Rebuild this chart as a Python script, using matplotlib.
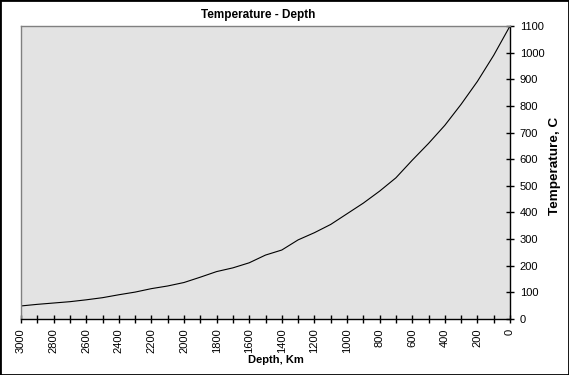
import matplotlib
matplotlib.use("Agg")
import matplotlib.pyplot as plt
from matplotlib.patches import Rectangle
from matplotlib.ticker import MultipleLocator

plt.rcParams['font.family'] = ['Liberation Sans', 'DejaVu Sans']

# depth in km, temperature in C
depth = [0, 100, 200, 300, 400, 500, 600, 700, 800, 900, 1000,
         1100, 1200, 1300, 1400, 1500, 1600, 1700, 1800, 1900, 2000,
         2100, 2200, 2300, 2400, 2500, 2600, 2700, 2800, 2900, 3000]
temperature = [1100, 990, 892, 806, 727, 659, 596, 530, 480, 435, 395,
               355, 324, 297, 259, 240, 211, 192, 178, 157, 137,
               124, 114, 101, 91, 80, 72, 65, 60, 55, 49]

W, H = 569, 375
fig = plt.figure(figsize=(W / 100, H / 100), dpi=100)
ax = fig.add_axes([21 / W, 1 - 319 / H, (510 - 21) / W, (319 - 26) / H])
ax.set_facecolor('#e3e3e3')

ax.plot(depth, temperature, color='black', linewidth=0.8)

ax.set_xlim(3000, 0)
ax.set_ylim(0, 1100)

# axes: x at bottom, y on the right, black; top/left gray frame
for side in ['top', 'left']:
    ax.spines[side].set_color('#808080')
    ax.spines[side].set_linewidth(1.0)
for side in ['bottom', 'right']:
    ax.spines[side].set_color('black')
    ax.spines[side].set_linewidth(1.0)

ax.yaxis.tick_right()
ax.yaxis.set_major_locator(MultipleLocator(100))
ax.xaxis.set_major_locator(MultipleLocator(200))
ax.xaxis.set_minor_locator(MultipleLocator(100))
ax.tick_params(axis='both', which='both', direction='inout', length=6,
               width=1, color='black', labelsize=8)
ax.tick_params(axis='x', which='major', labelrotation=90, pad=4)
ax.tick_params(axis='y', which='major', pad=4)

fig.text(258 / W, 1 - 15 / H, 'Temperature - Depth', ha='center', va='center',
         fontsize=8.5, fontweight='bold')
fig.text(276 / W, 1 - 360 / H, 'Depth, Km', ha='center', va='center',
         fontsize=8, fontweight='bold')
fig.text(555 / W, 1 - 166 / H, 'Temperature, C', ha='center', va='center',
         rotation=90, fontsize=9.7, fontweight='bold')

fig.patches.append(Rectangle((0, 0), 1, 1, transform=fig.transFigure,
                             fill=False, edgecolor='black', linewidth=2))

fig.savefig('out.png', dpi=100)
